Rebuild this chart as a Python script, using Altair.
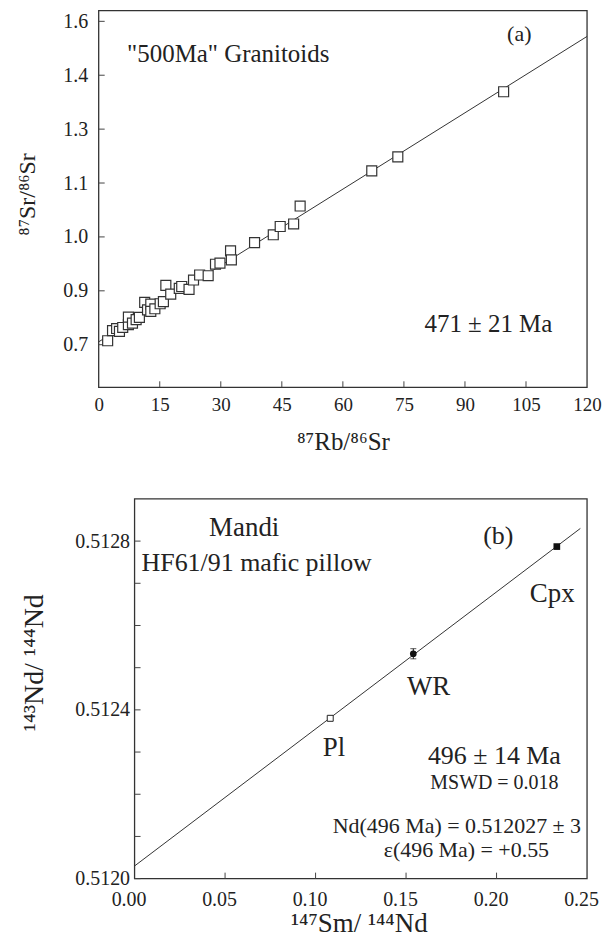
import json
import altair as alt
import pandas as pd

FONT = "Liberation Serif"
INK = "#222222"

# ---------------- panel (a): Rb-Sr isochron ----------------
rb86 = [2.2, 3.4, 4.4, 5.1, 5.9, 7.3, 7.3, 8.3, 9.2, 10.0, 11.3, 12.0, 12.8, 12.8,
        13.8, 15.1, 15.9, 16.5, 17.7, 19.8, 20.4, 22.2, 23.3, 24.8, 26.9, 28.7,
        29.8, 32.4, 32.6, 38.3, 42.9, 44.6, 47.9, 49.5, 67.1, 73.5, 99.5]
sr86 = [0.711, 0.739, 0.745, 0.737, 0.748, 0.756, 0.777, 0.760, 0.770, 0.776,
        0.818, 0.797, 0.813, 0.793, 0.800, 0.814, 0.820, 0.865, 0.841, 0.857,
        0.862, 0.854, 0.880, 0.894, 0.892, 0.924, 0.927, 0.961, 0.936, 0.984,
        1.006, 1.029, 1.036, 1.086, 1.184, 1.223, 1.404]
iso_a_x = [0, 120]
iso_a_y = [0.708, 1.558]
xdom_a = [0, 120]
ydom_a = [0.5815, 1.63]
xticks_a = [0, 15, 30, 45, 60, 75, 90, 105, 120]
yticks_a = [0.7, 0.85, 1.0, 1.15, 1.3, 1.45, 1.6]
ylabels_a = ["0.7", "0.9", "1.0", "1.1", "1.3", "1.4", "1.6"]

# ---------------- panel (b): Sm-Nd isochron ----------------
minerals = ["Pl", "WR", "Cpx"]
sm144 = [0.1081, 0.1540, 0.2333]
nd144 = [0.51238, 0.512533, 0.512787]
nd_err = [0.0, 0.000012, 0.0]
iso_b_x = [0, 0.2463]
iso_b_y = [0.51203, 0.51283]
xdom_b = [0, 0.25]
ydom_b = [0.5120, 0.5129]
xticks_b = [0.0, 0.05, 0.10, 0.15, 0.20, 0.25]
yticks_b = [0.5120, 0.5124, 0.5128]
yminor_b = [0.5120, 0.5121, 0.5122, 0.5123, 0.5124, 0.5125, 0.5126, 0.5127, 0.5128]

W_A, H_A = 490, 378
W_B, H_B = 490, 381
INSET_B = 36
TICK = 6


def txt(label, x, y, size, align="center"):
    return alt.Chart(pd.DataFrame({"t": [label]})).mark_text(
        font=FONT, fontSize=size, color=INK, align=align, baseline="middle"
    ).encode(x=alt.value(x), y=alt.value(y), text="t:N")


# ---- panel (a) ----
xs_a = alt.Scale(domain=xdom_a, nice=False, zero=False)
ys_a = alt.Scale(domain=ydom_a, nice=False, zero=False)
lab_expr_a = json.dumps(ylabels_a) + "[round((datum.value-0.7)/0.15)]"

ax_xa = alt.Axis(values=xticks_a, format="d", ticks=False, domain=False, grid=False,
                 labelFont=FONT, labelFontSize=19, labelColor=INK, labelPadding=8,
                 labelFlush=False, labelOverlap=False,
                 title="⁸⁷Rb/⁸⁶Sr", titleFont=FONT, titleFontSize=25, titleColor=INK,
                 titleFontWeight="normal", titleX=245, titleY=62,
                 titleBaseline="alphabetic", titleAlign="center")
ax_ya = alt.Axis(values=yticks_a, labelExpr=lab_expr_a, ticks=False, domain=False,
                 grid=False, labelFont=FONT, labelFontSize=20, labelColor=INK,
                 labelPadding=11, labelOverlap=False, labelFlush=False,
                 title="⁸⁷Sr/⁸⁶Sr", titleFont=FONT, titleFontSize=24, titleColor=INK,
                 titleFontWeight="normal", titleX=-64, titleY=184, titleAngle=270,
                 titleBaseline="alphabetic", titleAlign="center")

frame_a = alt.Chart(pd.DataFrame({"x": [xdom_a[0]], "x2": [xdom_a[1]],
                                  "y": [ydom_a[0]], "y2": [ydom_a[1]]})).mark_rect(
    fillOpacity=0, stroke="#333333", strokeWidth=1.3
).encode(x=alt.X("x:Q", scale=xs_a, axis=ax_xa), x2="x2:Q",
         y=alt.Y("y:Q", scale=ys_a, axis=ax_ya), y2="y2:Q")

yt_a = alt.Chart(pd.DataFrame({"y": yticks_a})).mark_rule(
    color="#444444", strokeWidth=1
).encode(y=alt.Y("y:Q", scale=ys_a, axis=ax_ya), x=alt.value(0), x2=alt.value(TICK))

xt_a = alt.Chart(pd.DataFrame({"x": xticks_a[1:-1]})).mark_rule(
    color="#444444", strokeWidth=1
).encode(x=alt.X("x:Q", scale=xs_a, axis=ax_xa), y=alt.value(H_A), y2=alt.value(H_A - TICK))

line_a = alt.Chart(pd.DataFrame({"x": iso_a_x, "y": iso_a_y})).mark_line(
    color="#333333", strokeWidth=1
).encode(x=alt.X("x:Q", scale=xs_a, axis=ax_xa), y=alt.Y("y:Q", scale=ys_a, axis=ax_ya))

pts_a = alt.Chart(pd.DataFrame({"x": rb86, "y": sr86, "o": list(range(len(rb86)))})).mark_point(
    shape="square", size=100, fill="white", fillOpacity=1, stroke="#333333",
    strokeWidth=1.2, opacity=1
).encode(x=alt.X("x:Q", scale=xs_a, axis=ax_xa), y=alt.Y("y:Q", scale=ys_a, axis=ax_ya),
         order="o:Q")

panel_a = alt.layer(
    frame_a, yt_a, xt_a, line_a, pts_a,
    txt('"500Ma" Granitoids', 28.5, 43.5, 25, "left"),
    txt("(a)", 422, 24, 22),
    txt("471 ± 21 Ma", 391, 314.5, 25),
).properties(width=W_A, height=H_A)

# ---- panel (b) ----
xs_b = alt.Scale(domain=xdom_b, range=[INSET_B, W_B], nice=False, zero=False)
ys_b = alt.Scale(domain=ydom_b, nice=False, zero=False)

ax_xb = alt.Axis(values=xticks_b, format=".2f", ticks=False, domain=False, grid=False,
                 labelFont=FONT, labelFontSize=20, labelColor=INK, labelPadding=11,
                 labelFlush=False, labelOverlap=False, labelOffset=-6,
                 title="¹⁴⁷Sm/ ¹⁴⁴Nd", titleFont=FONT, titleFontSize=27, titleColor=INK,
                 titleFontWeight="normal", titleX=261, titleY=53,
                 titleBaseline="alphabetic", titleAlign="center")
ax_yb = alt.Axis(values=yticks_b, format=".4f", ticks=False, domain=False, grid=False,
                 offset=-INSET_B, labelFont=FONT, labelFontSize=20, labelColor=INK,
                 labelPadding=5, labelOverlap=False, labelFlush=False,
                 title="¹⁴³Nd/ ¹⁴⁴Nd", titleFont=FONT, titleFontSize=28, titleColor=INK,
                 titleFontWeight="normal", titleX=-92, titleY=164, titleAngle=270,
                 titleBaseline="alphabetic", titleAlign="center")

frame_b = alt.Chart(pd.DataFrame({"x": [xdom_b[0]], "x2": [xdom_b[1]],
                                  "y": [ydom_b[0]], "y2": [ydom_b[1]]})).mark_rect(
    fillOpacity=0, stroke="#333333", strokeWidth=1.3
).encode(x=alt.X("x:Q", scale=xs_b, axis=ax_xb), x2="x2:Q",
         y=alt.Y("y:Q", scale=ys_b, axis=ax_yb), y2="y2:Q")

yt_b = alt.Chart(pd.DataFrame({"y": yminor_b})).mark_rule(
    color="#444444", strokeWidth=1
).encode(y=alt.Y("y:Q", scale=ys_b, axis=ax_yb), x=alt.value(INSET_B),
         x2=alt.value(INSET_B + TICK))

xt_b = alt.Chart(pd.DataFrame({"x": xticks_b[1:-1]})).mark_rule(
    color="#444444", strokeWidth=1
).encode(x=alt.X("x:Q", scale=xs_b, axis=ax_xb), y=alt.value(H_B), y2=alt.value(H_B - TICK))

line_b = alt.Chart(pd.DataFrame({"x": iso_b_x, "y": iso_b_y})).mark_line(
    color="#333333", strokeWidth=1
).encode(x=alt.X("x:Q", scale=xs_b, axis=ax_xb), y=alt.Y("y:Q", scale=ys_b, axis=ax_yb))

df_b = pd.DataFrame({"m": minerals, "x": sm144, "y": nd144,
                     "lo": [v - e for v, e in zip(nd144, nd_err)],
                     "hi": [v + e for v, e in zip(nd144, nd_err)]})

wr = df_b[df_b.m == "WR"]
err_b = alt.Chart(wr).mark_rule(color="#111111", strokeWidth=1).encode(
    x=alt.X("x:Q", scale=xs_b, axis=ax_xb), y=alt.Y("lo:Q", scale=ys_b, axis=ax_yb), y2="hi:Q")
cap_lo = alt.Chart(wr).mark_tick(orient="horizontal", size=6, thickness=1, color="#111111").encode(
    x=alt.X("x:Q", scale=xs_b, axis=ax_xb), y=alt.Y("lo:Q", scale=ys_b, axis=ax_yb))
cap_hi = alt.Chart(wr).mark_tick(orient="horizontal", size=6, thickness=1, color="#111111").encode(
    x=alt.X("x:Q", scale=xs_b, axis=ax_xb), y=alt.Y("hi:Q", scale=ys_b, axis=ax_yb))

pl_pt = alt.Chart(df_b[df_b.m == "Pl"]).mark_point(
    shape="square", size=36, fill="white", fillOpacity=1, stroke="#222222", strokeWidth=1, opacity=1
).encode(x=alt.X("x:Q", scale=xs_b, axis=ax_xb), y=alt.Y("y:Q", scale=ys_b, axis=ax_yb))
wr_pt = alt.Chart(wr).mark_point(
    shape="circle", size=45, filled=True, color="#111111", opacity=1
).encode(x=alt.X("x:Q", scale=xs_b, axis=ax_xb), y=alt.Y("y:Q", scale=ys_b, axis=ax_yb))
cpx_pt = alt.Chart(df_b[df_b.m == "Cpx"]).mark_point(
    shape="square", size=45, filled=True, color="#111111", opacity=1
).encode(x=alt.X("x:Q", scale=xs_b, axis=ax_xb), y=alt.Y("y:Q", scale=ys_b, axis=ax_yb))

panel_b = alt.layer(
    frame_b, yt_b, xt_b, line_b, err_b, cap_lo, cap_hi, pl_pt, wr_pt, cpx_pt,
    txt("Mandi", 146, 29, 27),
    txt("HF61/91 mafic pillow", 43, 64, 26, "left"),
    txt("(b)", 401, 37, 26),
    txt("Cpx", 455, 95, 27),
    txt("WR", 331, 189, 27),
    txt("Pl", 236, 250, 27),
    txt("496 ± 14 Ma", 397, 258, 26),
    txt("MSWD = 0.018", 397, 285, 20),
    txt("Nd(496 Ma) = 0.512027 ± 3", 484, 328, 22, "right"),
    txt("ε(496 Ma) = +0.55", 286, 352, 22, "left"),
).properties(width=W_B, height=H_B)

chart = alt.vconcat(panel_a, panel_b, spacing=44).properties(
    padding={"left": 8, "top": 0, "right": 0, "bottom": 0},
    background="white",
).configure_view(stroke=None)

chart.save("out.html", embed_options={"renderer": "svg", "actions": False})
